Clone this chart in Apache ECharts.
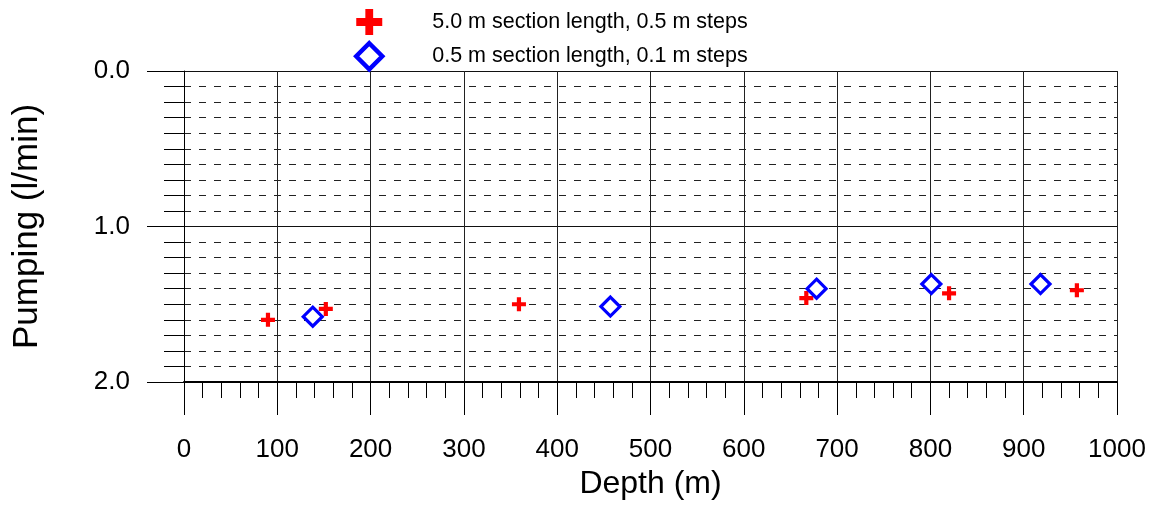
<!DOCTYPE html>
<html>
<head>
<meta charset="utf-8">
<script src="https://cdn.jsdelivr.net/npm/echarts@6/dist/echarts.min.js"></script>
<style>
  html, body { margin: 0; padding: 0; background: #fff; }
  #chart { width: 1155px; height: 506px; }
</style>
</head>
<body>
<div id="chart"></div>
<script>
// Pumping rate versus depth for two measurement setups
const seriesNames = [
  '5.0 m section length, 0.5 m steps',
  '0.5 m section length, 0.1 m steps'
];
// [depth (m), pumping (l/min)]
const coarseSteps = [
  [90, 1.60], [152, 1.53], [359, 1.50], [667, 1.46], [820, 1.43], [957, 1.41]
];
const fineSteps = [
  [138, 1.58], [457, 1.515], [678, 1.40], [801, 1.37], [918, 1.37]
];
const depthRange = [0, 1000];
const pumpingRange = [0, 2];

const FONT = "'Liberation Sans', Arial, sans-serif";
const CROSS = 'path://M3.5,0H6.5V3.5H10V6.5H6.5V10H3.5V6.5H0V3.5H3.5Z';

const chart = echarts.init(document.getElementById('chart'), null, { renderer: 'canvas' });

chart.setOption({
  animation: false,
  backgroundColor: '#fff',
  textStyle: { fontFamily: FONT, color: '#000' },
  legend: {
    orient: 'vertical',
    left: 349,
    top: 4,
    itemWidth: 26,
    itemHeight: 26,
    itemGap: 6,
    textStyle: { fontFamily: FONT, fontSize: 21.5, lineHeight: 26, color: '#000', padding: [0, 0, 0, 45] },
    data: [
      { name: seriesNames[0], icon: CROSS, itemStyle: { color: '#ff0000', borderWidth: 0, opacity: 1 } },
      { name: seriesNames[1], icon: 'diamond',
        itemStyle: { color: '#fff', borderColor: '#0000ff', borderWidth: 4.5, opacity: 1 } }
    ]
  },
  grid: { left: 184, right: 38, top: 71, bottom: 124, containLabel: false, outerBoundsMode: 'none' },
  xAxis: {
    type: 'value',
    position: 'bottom',
    min: depthRange[0],
    max: depthRange[1],
    interval: 100,
    name: 'Depth (m)',
    nameLocation: 'middle',
    nameGap: 84,
    nameTextStyle: { fontFamily: FONT, fontSize: 32, color: '#000' },
    axisLine: { show: true, onZero: false, lineStyle: { color: '#000', width: 2 } },
    axisTick: { show: true, length: 33, lineStyle: { color: '#000', width: 1 } },
    minorTick: { show: true, splitNumber: 5, length: 16, lineStyle: { color: '#000', width: 1 } },
    axisLabel: { margin: 55, fontFamily: FONT, fontSize: 26, color: '#000', formatter: v => String(v) },
    splitLine: { show: true, lineStyle: { color: '#222', width: 1 } },
    minorSplitLine: { show: false }
  },
  yAxis: {
    type: 'value',
    inverse: true,
    min: pumpingRange[0],
    max: pumpingRange[1],
    interval: 1,
    name: 'Pumping (l/min)',
    nameLocation: 'middle',
    nameRotate: 90,
    nameGap: 139,
    nameTextStyle: { fontFamily: FONT, fontSize: 35, color: '#000' },
    axisLine: { show: true, onZero: false, lineStyle: { color: '#000', width: 1 } },
    axisTick: { show: true, length: 37, lineStyle: { color: '#000', width: 1 } },
    minorTick: { show: true, splitNumber: 10, length: 20, lineStyle: { color: '#000', width: 1 } },
    axisLabel: {
      margin: 54, fontFamily: FONT, fontSize: 26, color: '#000',
      formatter: v => v.toFixed(1)
    },
    splitLine: { show: true, lineStyle: { color: '#111', width: 1 } },
    minorSplitLine: { show: true, lineStyle: { color: '#222', width: 1, type: [7, 8] } }
  },
  series: [
    {
      name: seriesNames[0],
      type: 'scatter',
      data: coarseSteps,
      symbol: CROSS,
      symbolSize: 14,
      itemStyle: { color: '#ff0000', opacity: 1 },
      z: 3
    },
    {
      name: seriesNames[1],
      type: 'scatter',
      data: fineSteps,
      symbol: 'diamond',
      symbolSize: 19,
      itemStyle: { color: '#fff', borderColor: '#0000ff', borderWidth: 3.2, opacity: 1 },
      z: 4
    }
  ]
});
</script>
</body>
</html>
